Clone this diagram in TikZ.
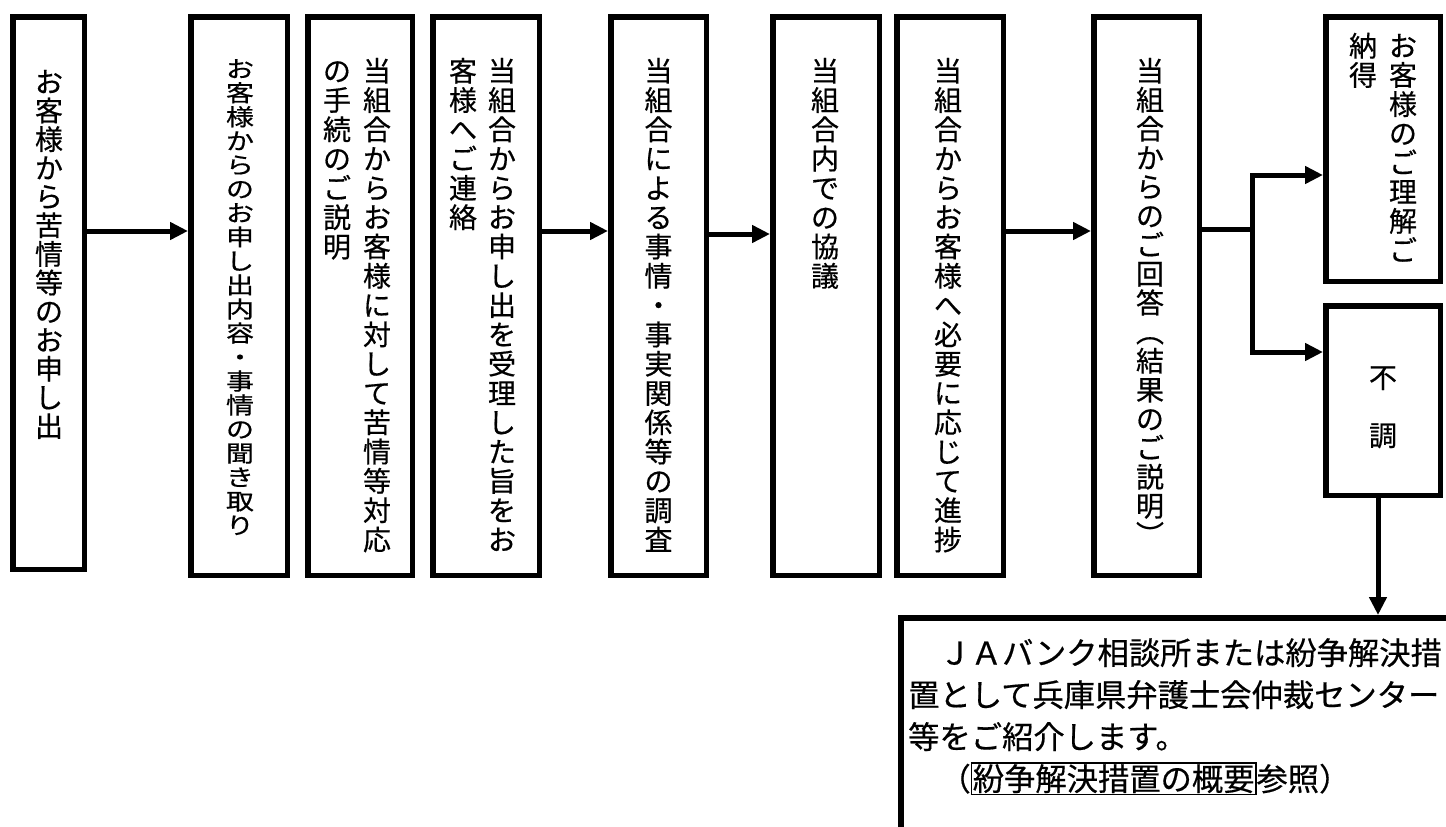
\documentclass[tikz,border=0pt]{standalone}
\usepackage{fontspec}
\setmainfont{Noto Sans CJK JP}[FakeBold=0.5]
\usepackage{graphicx}
\usetikzlibrary{arrows.meta,positioning}
\setlength{\fboxsep}{0.5pt}
\setlength{\fboxrule}{1.5pt}

% vertical column: one character per line, fixed pitch
\makeatletter
\newcommand\tate[2][29.3]{%
  \vtop{\baselineskip=#1pt\lineskiplimit=-100pt\lineskip=0pt
    \@tfor\tate@c:=#2\do{\hbox to 1em{\hss\vrule height .88em depth .12em width 0pt\tate@c\hss}}}}
\makeatother
\newcommand\vparen[1]{\rotatebox[origin=c]{-90}{#1}}

\begin{document}
\begin{tikzpicture}[
    x=1pt, y=-1pt,
    box/.style={rectangle, draw, line width=5.5pt, inner sep=0pt},
    tate/.style={inner sep=0pt, anchor=north, font=\fontsize{28}{28}\selectfont},
    arrow/.style={-{Triangle[length=18pt,width=17pt]}, line width=5pt},
    link/.style={line width=5pt}
]
\path[use as bounding box, clip] (0,0) rectangle (1446,827);

% boxes
\node[box, minimum width=71.5, minimum height=552.5] (b1) at (48.5,293) {};
\node[box, minimum width=96.5, minimum height=558.5] (b2) at (239,296) {};
\node[box, minimum width=104.5, minimum height=558.5] (b3) at (360,296) {};
\node[box, minimum width=106.5, minimum height=558.5] (b4) at (486,296) {};
\node[box, minimum width=95.5, minimum height=558.5] (b5) at (658.5,296) {};
\node[box, minimum width=106.5, minimum height=558.5] (b6) at (826,296) {};
\node[box, minimum width=106.5, minimum height=558.5] (b7) at (950,296) {};
\node[box, minimum width=105.5, minimum height=558.5] (b8) at (1146.5,296) {};
\node[box, minimum width=114.5, minimum height=264.5] (b9) at (1383,149) {};
\node[box, minimum width=114.5, minimum height=189.5] (b10) at (1383,400.5) {};
\node[box, minimum width=566.5, minimum height=229.5] (b11) at (1184,732.5) {};

% texts
\node[tate] (t1) at (49,67.5) {\tate[28.7]{お客様から苦情等のお申し出}};
\node[tate] (t2) at (240,57) {\scalebox{1}[0.82]{\tate{お客様からのお申し出内容・事情の聞き取り}}};
\node[tate] (t3) at (357,56.5) {\hbox{\tate{の手続のご説明}\hskip 12pt\tate{当組合からお客様に対して苦情等対応}}};
\node[tate] (t4) at (482.5,56.5) {\hbox{\tate{客様へご連絡}\hskip 11pt\tate{当組合からお申し出を受理した旨をお}}};
\node[tate] (t5) at (658.5,56.5) {\tate{当組合による事情・事実関係等の調査}};
\node[tate] (t6) at (825,56.5) {\tate{当組合内での協議}};
\node[tate] (t7) at (948,56.5) {\tate{当組合からお客様へ必要に応じて進捗}};
\node[tate] (t8) at (1150,56.5) {\tate[29]{当組合からのご回答{\vparen{（}}結果のご説明{\vparen{）}}}};
\node[tate] (t9) at (1383,31.5) {\hbox{\tate[29.2]{納得}\hskip 12pt\tate[29.2]{お客様のご理解ご}}};
\node[tate] (t10) at (1383,363) {\tate[58]{不調}};
\node[anchor=north west, inner sep=0pt, align=left, font=\fontsize{31.3}{42}\selectfont] (t11) at (908,638)
  {　ＪＡバンク相談所または紛争解決措\\置として兵庫県弁護士会仲裁センター\\等をご紹介します。\\　（\fbox{紛争解決措置の概要}参照）};

% connectors
\coordinate (lv) at (0,231);
\coordinate (lv2) at (0,234);
\draw[arrow] (b1.east |- lv) -- (b2.west |- lv);
\draw[arrow] (b4.east |- lv) -- (b5.west |- lv);
\draw[arrow] (b5.east |- lv2) -- (b6.west |- lv2);
\draw[arrow] (b7.east |- lv) -- (b8.west |- lv);
\coordinate (br) at (1252,229);
\coordinate (up) at (1252,175);
\coordinate (dn) at (1252,352);
\draw[link] (b8.east |- br) -- (br);
\draw[arrow] (br) -- (up) -- (b9.west |- up);
\draw[arrow] (br) -- (dn) -- (b10.west |- dn);
\coordinate (vx) at (1378,0);
\draw[arrow] (b10.south -| vx) -- (b11.north -| vx);
\end{tikzpicture}
\end{document}
